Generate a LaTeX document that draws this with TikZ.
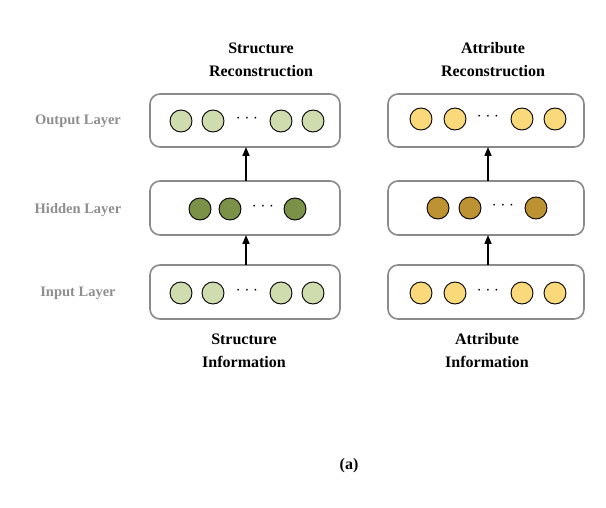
\documentclass[tikz,border=0pt]{standalone}
\usepackage{fontspec}
\setmainfont{Liberation Serif}
\usetikzlibrary{arrows.meta}
\definecolor{lg}{HTML}{CFDCAE}
\definecolor{dg}{HTML}{7B9148}
\definecolor{ly}{HTML}{FAD97A}
\definecolor{dy}{HTML}{BC9232}
\definecolor{lbl}{HTML}{8E8E8E}
\definecolor{bx}{HTML}{8A8A8A}
\begin{document}
\begin{tikzpicture}[x=1pt,y=-1pt,
  box/.style={draw=bx,line width=1.6pt,rounded corners=10pt},
  neu/.style={circle,draw=black,line width=0.9pt,minimum size=22pt,inner sep=0pt},
  dots/.style={font=\bfseries\fontsize{16}{16}\selectfont},
  lay/.style={text=lbl,font=\bfseries\fontsize{14.5}{16}\selectfont},
  ttl/.style={align=center,font=\bfseries\fontsize{16}{23}\selectfont},
  arr/.style={-{Triangle[length=9pt,width=7pt]},line width=1.6pt}]
\useasboundingbox (0,0) rectangle (606,508);
% labels
\node[lay] (lo) at (78,121) {Output Layer};
\node[lay] (lh) at (78,210) {Hidden Layer};
\node[lay] (li) at (78,293) {Input Layer};
% left boxes
\draw[box] (150,94) rectangle (340,147); \coordinate (LOb) at (246,147);
\draw[box] (150,181) rectangle (340,235); \coordinate (LHt) at (246,181); \coordinate (LHb) at (246,235);
\draw[box] (150,265) rectangle (340,319); \coordinate (LIt) at (246,265);
\draw[arr] (LHt) -- (LOb);
\draw[arr] (LIt) -- (LHb);
\foreach \x [count=\i] in {181,213,281,313}{
  \node[neu,fill=lg] (lo\i) at (\x,121) {};
  \node[neu,fill=lg] (li\i) at (\x,293) {};}
\foreach \x [count=\i] in {200,230,295}{\node[neu,fill=dg] (lh\i) at (\x,209) {};}
\node[dots] (ld1) at (247,119) {$\cdot\cdot\cdot$};
\node[dots] (ld2) at (263,207) {$\cdot\cdot\cdot$};
\node[dots] (ld3) at (247,291) {$\cdot\cdot\cdot$};
% right boxes
\draw[box] (388,94) rectangle (584,147); \coordinate (ROb) at (488,147);
\draw[box] (388,181) rectangle (584,235); \coordinate (RHt) at (488,181); \coordinate (RHb) at (488,235);
\draw[box] (388,265) rectangle (584,319); \coordinate (RIt) at (488,265);
\draw[arr] (RHt) -- (ROb);
\draw[arr] (RIt) -- (RHb);
\foreach \x [count=\i] in {421,455,522,555}{
  \node[neu,fill=ly] (ro\i) at (\x,119) {};
  \node[neu,fill=ly] (ri\i) at (\x,293) {};}
\foreach \x [count=\i] in {438,470,536}{\node[neu,fill=dy] (rh\i) at (\x,208) {};}
\node[dots] (rd1) at (488,117) {$\cdot\cdot\cdot$};
\node[dots] (rd2) at (503,206) {$\cdot\cdot\cdot$};
\node[dots] (rd3) at (488,291) {$\cdot\cdot\cdot$};
% titles
\node[ttl] (t1) at (261,60) {Structure\\Reconstruction};
\node[ttl] (t2) at (493,60) {Attribute\\Reconstruction};
\node[ttl] (b1) at (244,351) {Structure\\Information};
\node[ttl] (b2) at (487,351) {Attribute\\Information};
\node[font=\bfseries\fontsize{16}{18}\selectfont] (cap) at (349,466) {(a)};
\end{tikzpicture}
\end{document}
